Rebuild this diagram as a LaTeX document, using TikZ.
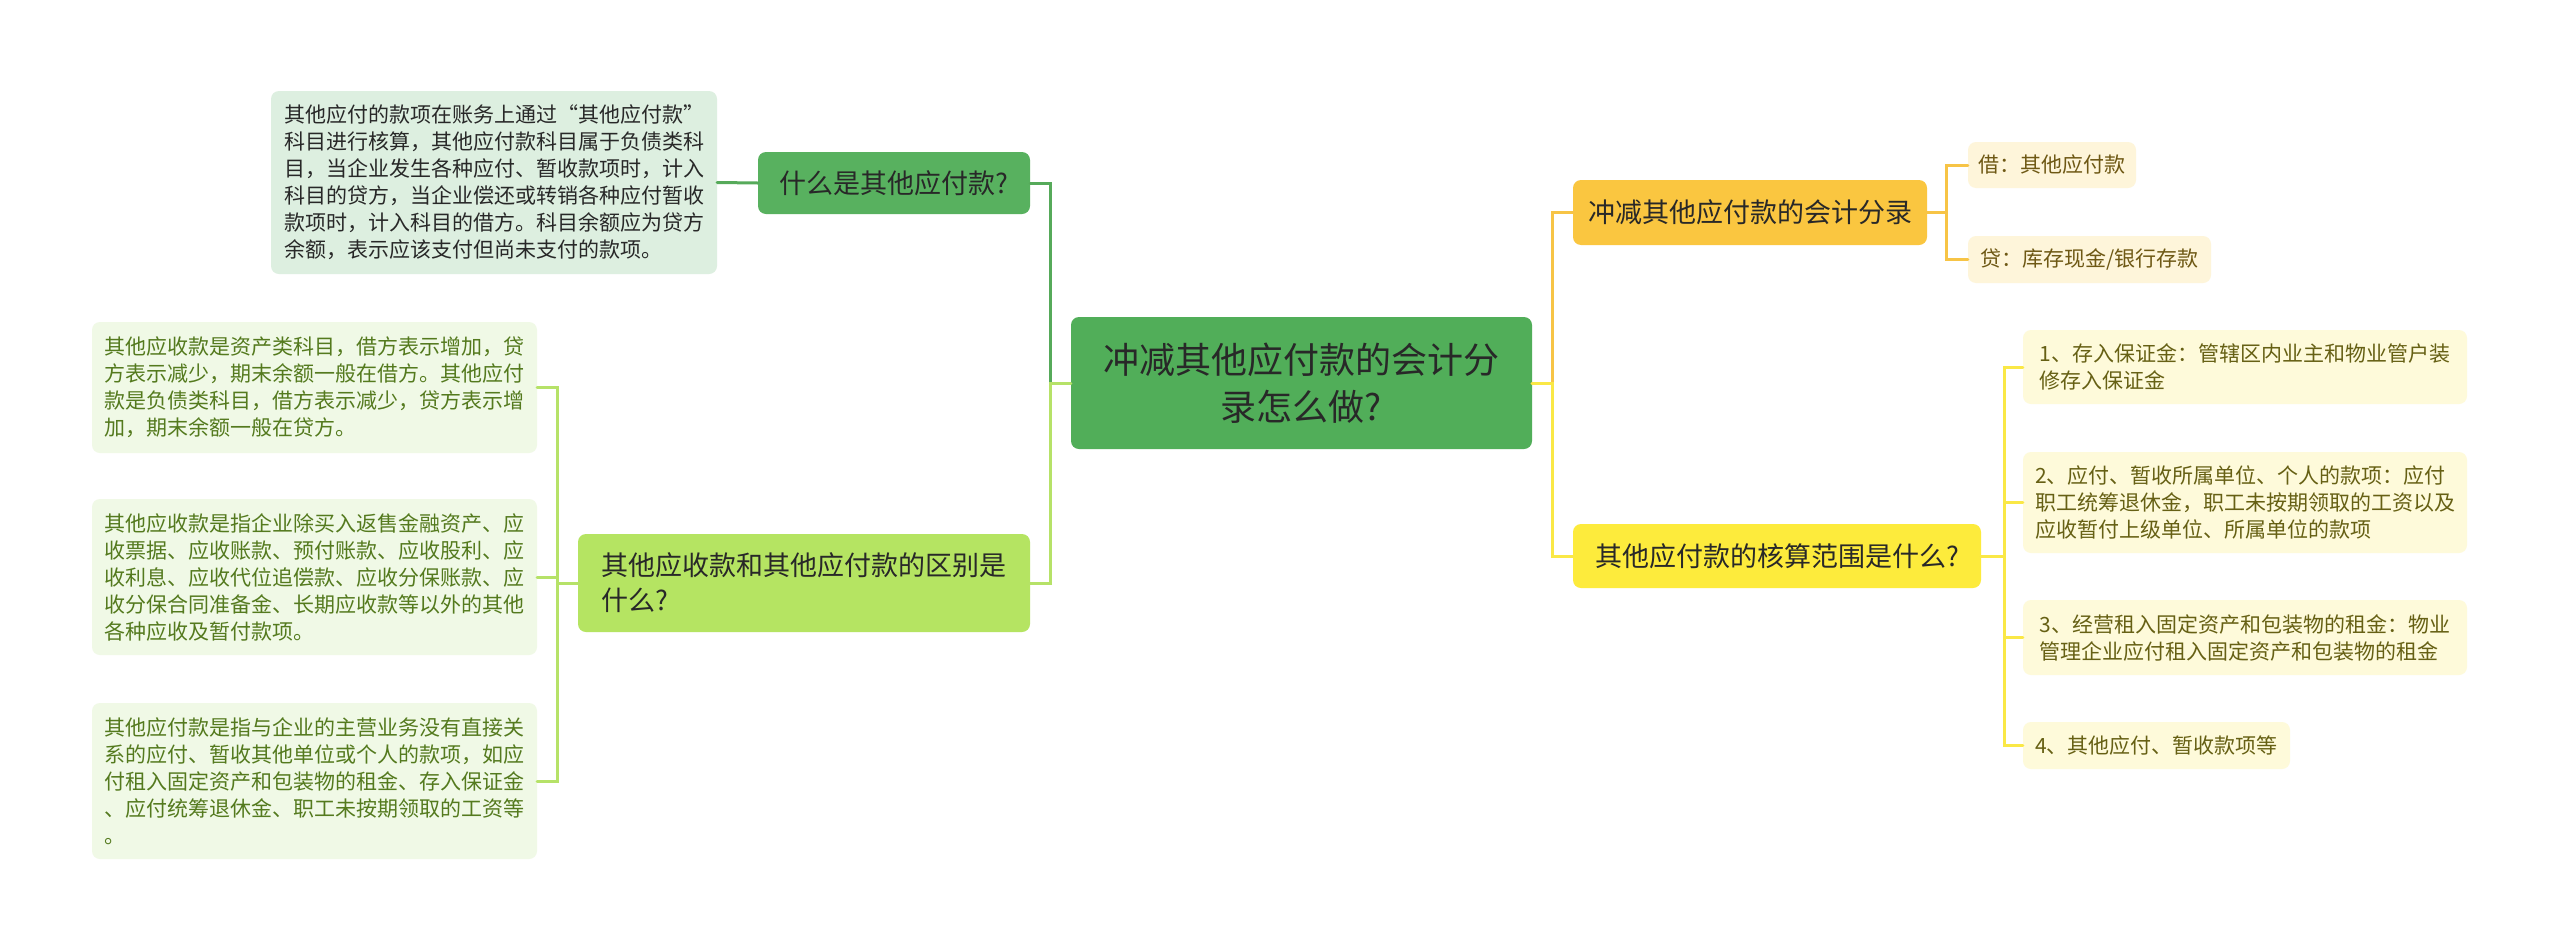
\documentclass[tikz,border=0pt]{standalone}
\usepackage{fontspec}
\newfontfamily\cjk{Noto Sans CJK SC}
\usetikzlibrary{calc}
\definecolor{cmain}{RGB}{81,174,89}
\definecolor{cqone}{RGB}{88,177,95}
\definecolor{lqone}{RGB}{86,170,90}
\definecolor{ftone}{RGB}{221,239,224}
\definecolor{clb}{RGB}{181,228,98}
\definecolor{llb}{RGB}{182,226,104}
\definecolor{fleaf}{RGB}{240,249,230}
\definecolor{tleaf}{RGB}{84,122,30}
\definecolor{corg}{RGB}{250,198,64}
\definecolor{lorg}{RGB}{247,196,70}
\definecolor{forg}{RGB}{254,245,218}
\definecolor{torg}{RGB}{110,88,20}
\definecolor{cyel}{RGB}{253,235,60}
\definecolor{lyel}{RGB}{250,232,70}
\definecolor{fyel}{RGB}{254,250,218}
\definecolor{tyel}{RGB}{102,96,20}
\definecolor{tdark}{RGB}{40,40,40}
\begin{document}
\begin{tikzpicture}[x=1pt,y=-1pt,
  box/.style={rectangle, rounded corners=8pt, inner sep=0pt, draw=none, align=left},
  big/.style={box, font={\cjk\fontsize{36pt}{47pt}\selectfont}, text=tdark, align=center},
  mid/.style={box, font={\cjk\fontsize{27pt}{35pt}\selectfont}, text=tdark},
  small/.style={box, font={\cjk\fontsize{21pt}{27pt}\selectfont}},
  conn/.style={line width=3pt, line cap=round}]
\useasboundingbox (0,0) rectangle (2560,951);
\fill[white] (0,0) rectangle (2560,951);

% central
\node[big, fill=cmain, minimum width=461pt, minimum height=132pt] (c) at (1301.5,383) {冲减其他应付款的会计分\\录怎么做?};

% left top
\node[mid, fill=cqone, minimum width=272pt, minimum height=62pt] (q1) at (894,183) {什么是其他应付款?};
\node[small, fill=ftone, text=tdark, minimum width=446pt, minimum height=183pt] (t1) at (494,182.5) {其他应付的款项在账务上通过“其他应付款”\\科目进行核算，其他应付款科目属于负债类科\\目，当企业发生各种应付、暂收款项时，计入\\科目的贷方，当企业偿还或转销各种应付暂收\\款项时，计入科目的借方。科目余额应为贷方\\余额，表示应该支付但尚未支付的款项。};

% left bottom
\node[mid, fill=clb, minimum width=452pt, minimum height=98pt] (lb) at (804,583) {其他应收款和其他应付款的区别是\\什么?};
\node[small, fill=fleaf, text=tleaf, minimum width=445pt, minimum height=131pt] (la) at (314.5,387.5) {其他应收款是资产类科目，借方表示增加，贷\\方表示减少，期末余额一般在借方。其他应付\\款是负债类科目，借方表示减少，贷方表示增\\加，期末余额一般在贷方。};
\node[small, fill=fleaf, text=tleaf, minimum width=445pt, minimum height=156pt] (lbb) at (314.5,577) {其他应收款是指企业除买入返售金融资产、应\\收票据、应收账款、预付账款、应收股利、应\\收利息、应收代位追偿款、应收分保账款、应\\收分保合同准备金、长期应收款等以外的其他\\各种应收及暂付款项。};
\node[small, fill=fleaf, text=tleaf, minimum width=445pt, minimum height=156pt] (lc) at (314.5,781) {其他应付款是指与企业的主营业务没有直接关\\系的应付、暂收其他单位或个人的款项，如应\\付租入固定资产和包装物的租金、存入保证金\\、应付统筹退休金、职工未按期领取的工资等\\。};

% right top
\node[mid, fill=corg, minimum width=354pt, minimum height=65pt] (o) at (1750,212.5) {冲减其他应付款的会计分录};
\node[small, fill=forg, text=torg, minimum width=168pt, minimum height=46pt] (o1) at (2052,165) {借：其他应付款};
\node[small, fill=forg, text=torg, minimum width=243pt, minimum height=47pt] (o2) at (2089.5,259.5) {贷：库存现金/银行存款};

% right bottom
\node[mid, fill=cyel, minimum width=408pt, minimum height=64pt] (yq) at (1777,556) {其他应付款的核算范围是什么?};
\node[small, fill=fyel, text=tyel, minimum width=444pt, minimum height=74pt] (y1) at (2245,367) {1、存入保证金：管辖区内业主和物业管户装\\修存入保证金};
\node[small, fill=fyel, text=tyel, minimum width=444pt, minimum height=101pt] (y2) at (2245,502.5) {2、应付、暂收所属单位、个人的款项：应付\\职工统筹退休金，职工未按期领取的工资以及\\应收暂付上级单位、所属单位的款项};
\node[small, fill=fyel, text=tyel, minimum width=444pt, minimum height=75pt] (y3) at (2245,637.5) {3、经营租入固定资产和包装物的租金：物业\\管理企业应付租入固定资产和包装物的租金};
\node[small, fill=fyel, text=tyel, minimum width=267pt, minimum height=47pt] (y4) at (2156.5,745.5) {4、其他应付、暂收款项等};

% junctions
\coordinate (jL) at ($(c.west)+(-20,0)$);
\coordinate (jR) at ($(c.east)+(20,0)$);
\coordinate (jLL) at ($(lb.west)+(-20,0)$);
\coordinate (jO) at ($(o.east)+(19,0)$);
\coordinate (jY) at ($(yq.east)+(23,0)$);

% connectors left
\draw[conn, lqone] (c.west) -- (jL) -- (jL |- q1.east) [rounded corners=10pt] -- (q1.east);
\draw[conn, lqone] (q1.west) -- (t1.east);
\draw[conn, llb] (c.west) -- (jL) -- (jL |- lb.east) [rounded corners=10pt] -- (lb.east);
\draw[conn, llb] (lb.west) -- (jLL) -- (jLL |- la.east) [rounded corners=10pt] -- (la.east);
\draw[conn, llb] (lb.west) -- (jLL) -- (jLL |- lbb.east) [rounded corners=3pt] -- (lbb.east);
\draw[conn, llb] (lb.west) -- (jLL) -- (jLL |- lc.east) [rounded corners=10pt] -- (lc.east);

% connectors right
\draw[conn, lorg] (c.east) -- (jR) -- (jR |- o.west) [rounded corners=10pt] -- (o.west);
\draw[conn, lorg] (o.east) -- (jO) -- (jO |- o1.west) [rounded corners=10pt] -- (o1.west);
\draw[conn, lorg] (o.east) -- (jO) -- (jO |- o2.west) [rounded corners=10pt] -- (o2.west);
\draw[conn, lyel] (c.east) -- (jR) -- (jR |- yq.west) [rounded corners=10pt] -- (yq.west);
\draw[conn, lyel] (yq.east) -- (jY) -- (jY |- y1.west) [rounded corners=10pt] -- (y1.west);
\draw[conn, lyel] (yq.east) -- (jY) -- (jY |- y2.west) [rounded corners=10pt] -- (y2.west);
\draw[conn, lyel] (yq.east) -- (jY) -- (jY |- y3.west) [rounded corners=10pt] -- (y3.west);
\draw[conn, lyel] (yq.east) -- (jY) -- (jY |- y4.west) [rounded corners=10pt] -- (y4.west);
\end{tikzpicture}
\end{document}
